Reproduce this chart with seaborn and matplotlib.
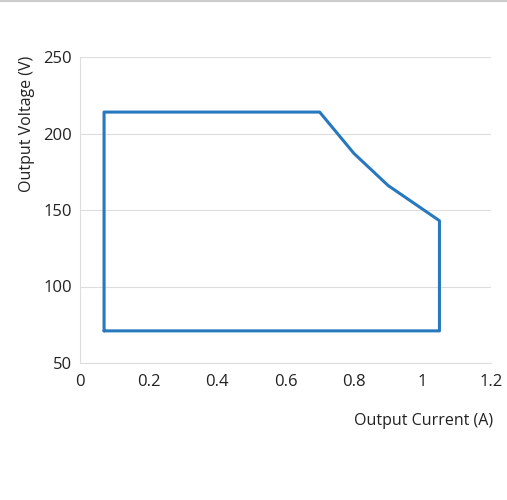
import seaborn as sns
import matplotlib.pyplot as plt
import pandas as pd

# operating area outline (closed polygon)
current = [0.07, 0.07, 0.70, 0.80, 0.90, 1.05, 1.05, 0.07]
voltage = [71, 214, 214, 187, 166, 143, 71, 71]
x_ticks = [0, 0.2, 0.4, 0.6, 0.8, 1, 1.2]
x_labels = ["0", "0.2", "0.4", "0.6", "0.8", "1", "1.2"]
y_ticks = [50, 100, 150, 200, 250]

df = pd.DataFrame({"Output Current (A)": current, "Output Voltage (V)": voltage})

sns.set_style("white")
plt.rcParams['font.family'] = ['Open Sans', 'DejaVu Sans']

fig = plt.figure(figsize=(5.07, 5.0), dpi=100)
ax = fig.add_axes([0.158, 0.274, 0.810, 0.612])

sns.lineplot(data=df, x="Output Current (A)", y="Output Voltage (V)", sort=False,
             estimator=None, color="#2878c0", linewidth=2.2, ax=ax)

ax.set_xlim(0, 1.2)
ax.set_ylim(50, 250)
ax.set_xticks(x_ticks)
ax.set_xticklabels(x_labels)
ax.set_yticks(y_ticks)
ax.grid(axis="y", color="#dddddd", linewidth=0.8)
for side in ["top", "right"]:
    ax.spines[side].set_visible(False)
for side in ["left", "bottom"]:
    ax.spines[side].set_color("#dddddd")
    ax.spines[side].set_linewidth(0.8)
ax.tick_params(axis="x", length=3, color="#dddddd", labelsize=12, pad=5, labelcolor="#222222")
ax.tick_params(axis="y", length=3, color="#dddddd", labelsize=12, pad=3, labelcolor="#222222")

ax.set_xlabel("Output Current (A)", fontsize=11.5, color="#222222", ha="right")
ax.xaxis.set_label_coords(1.005, -0.165)
ax.set_ylabel("Output Voltage (V)", fontsize=11.5, color="#222222")
ax.yaxis.set_label_coords(-0.11, 0.78)

# thin gray strip at the very top, as in the screenshot
fig.add_artist(plt.Line2D([0, 1], [0.998, 0.998], transform=fig.transFigure,
                          color="#cccccc", linewidth=1.5))

fig.savefig("out.png", dpi=100, facecolor="white")
